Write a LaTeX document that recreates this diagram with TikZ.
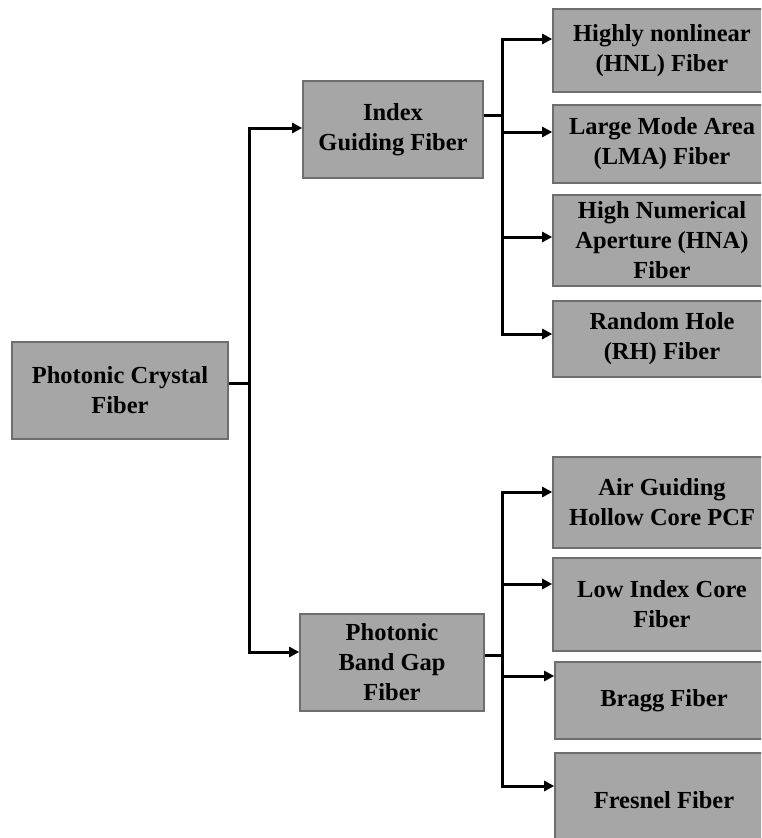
\documentclass[tikz,border=0pt]{standalone}
\usepackage{fontspec}
\setmainfont{Liberation Serif}
\usetikzlibrary{arrows.meta}
\definecolor{boxfill}{HTML}{A6A6A6}
\definecolor{boxline}{HTML}{6E6E6E}
\tikzset{
  fbox/.style={draw=boxline, line width=1.6pt, fill=boxfill, inner sep=0pt, align=center,
    font=\fontsize{24.5}{30}\selectfont\bfseries, text=black},
  conn/.style={line width=3pt, line join=miter},
  arr/.style={conn, -{Triangle[length=10pt,width=10pt]}}
}
\begin{document}
\begin{tikzpicture}[x=1pt,y=-1pt]
\useasboundingbox (0,0) rectangle (761,838);
\clip (0,0) rectangle (761,838);
\fill[white] (0,0) rectangle (761,838);
% main nodes
\node[fbox, minimum width=216pt, minimum height=97pt] (root) at (120,390.5) {Photonic Crystal\\Fiber};
\node[fbox, minimum width=180pt, minimum height=97pt] (idx) at (393,129.5) {Index\\Guiding Fiber};
\node[fbox, minimum width=184pt, minimum height=97pt] (pbg) at (392,662.5) {Photonic\\Band Gap\\Fiber};
% index guiding children
\node[fbox, minimum width=218pt, minimum height=83pt] (hnl) at (662,50.5) {Highly nonlinear\\(HNL) Fiber};
\node[fbox, minimum width=218pt, minimum height=78pt] (lma) at (662,144) {Large Mode Area\\(LMA) Fiber};
\node[fbox, minimum width=218pt, minimum height=91pt] (hna) at (662,240.5) {High Numerical\\Aperture (HNA)\\Fiber};
\node[fbox, minimum width=218pt, minimum height=76pt] (rh) at (662,339) {Random Hole\\(RH) Fiber};
% band gap children
\node[fbox, minimum width=218pt, minimum height=91pt] (air) at (662,502.5) {Air Guiding\\Hollow Core PCF};
\node[fbox, minimum width=218pt, minimum height=93pt] (low) at (662,604.5) {Low Index Core\\Fiber};
\node[fbox, minimum width=218pt, minimum height=77pt] (bragg) at (664,700.5) {Bragg Fiber};
\node[fbox, minimum width=218pt, minimum height=94pt] (fres) at (664,800) {Fresnel Fiber};
% trunk and branch points
\coordinate (t) at (249,383);
\coordinate (bi) at (502,115);
\coordinate (bp) at (502,655);
% root to trunk
\draw[conn] ([yshift=7.5pt]root.east) -- (t);
\draw[arr] (t) |- ([yshift=1.5pt]idx.west);
\draw[arr] (t) |- ([yshift=10.5pt]pbg.west);
% index guiding branch
\draw[conn] ([yshift=14.5pt]idx.east) -- (bi);
\draw[arr] (bi) |- ([yshift=11.5pt]hnl.west);
\draw[arr] (bi) |- ([yshift=12pt]lma.west);
\draw[arr] (bi) |- ([yshift=3.5pt]hna.west);
\draw[arr] (bi) |- ([yshift=5pt]rh.west);
% band gap branch
\draw[conn] ([yshift=7.5pt]pbg.east) -- (bp);
\draw[arr] (bp) |- ([yshift=10.5pt]air.west);
\draw[arr] (bp) |- ([yshift=20.5pt]low.west);
\draw[arr] (bp) |- ([yshift=24.5pt]bragg.west);
\draw[arr] (bp) |- ([yshift=14pt]fres.west);
\end{tikzpicture}
\end{document}
